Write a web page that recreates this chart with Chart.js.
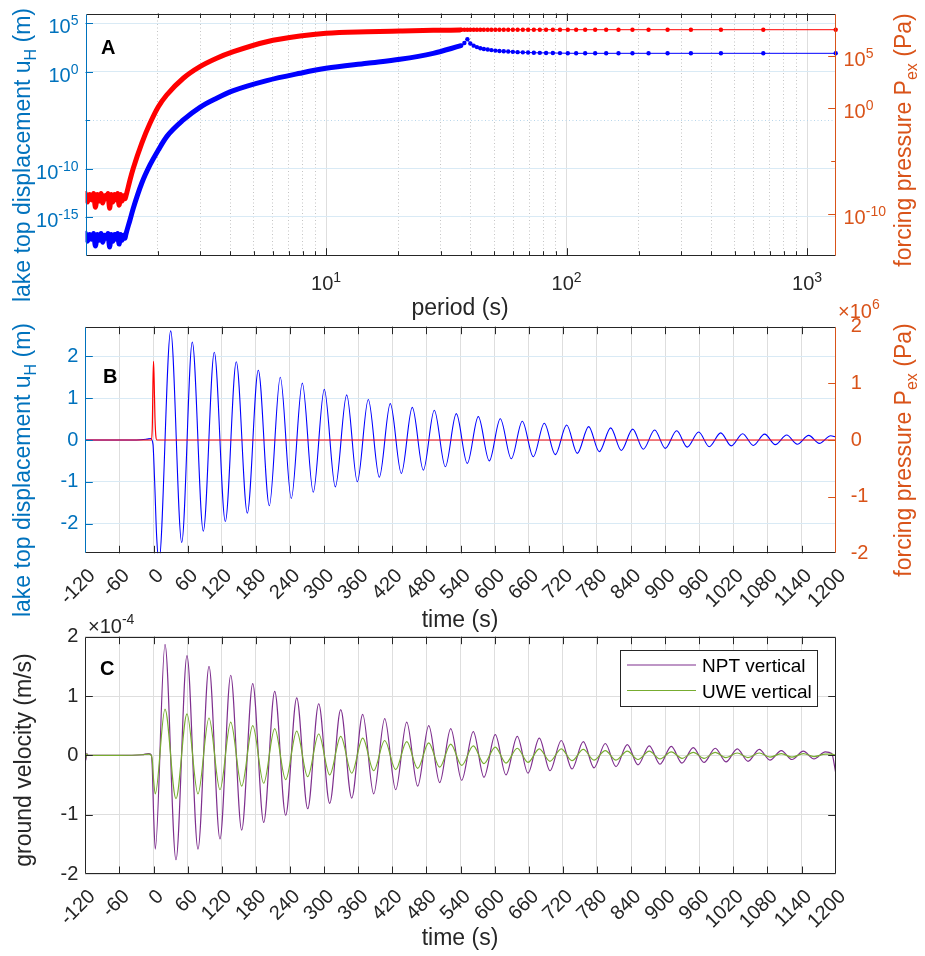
<!DOCTYPE html>
<html>
<head>
<meta charset="utf-8">
<script src="https://cdn.jsdelivr.net/npm/chart.js@4.4.0/dist/chart.umd.min.js"></script>
<style>
html, body { margin: 0; padding: 0; background: #fff; }
#wrap { position: relative; width: 925px; height: 956px; }
#wrap canvas { position: absolute; left: 0; top: 0; }
</style>
</head>
<body>
<div id="wrap">
  <canvas id="cA" width="925" height="956"></canvas>
  <canvas id="cB" width="925" height="956"></canvas>
  <canvas id="cC" width="925" height="956"></canvas>
</div>
<script>
// ---- panel A: spectra against period (s); values are log10 exponents ----
const periodDense = [1.00, 1.02, 1.04, 1.06, 1.08, 1.10, 1.12, 1.14, 1.16, 1.18, 1.20, 1.22,
  1.24, 1.26, 1.28, 1.30, 1.32, 1.34, 1.36, 1.38, 1.40, 1.42, 1.44, 1.46,
  1.470, 1.531, 1.580, 1.713, 1.854, 2.008, 2.176, 2.550, 2.99, 3.51, 4.12, 5.67, 7.8, 10, 14.8, 20.3, 27.9, 36.1];
const uDenseExp = [-16.7, -17.5, -16.8, -17.3, -16.7, -18.0, -16.8, -17.4, -16.7, -17.6, -16.9, -17.2,
  -16.7, -18.1, -16.8, -17.5, -16.8, -17.3, -16.7, -17.8, -16.8, -17.4, -16.9, -17.2,
  -16.86, -15.31, -14.10, -11.52, -9.63, -8.09, -6.71, -4.99, -3.68, -2.75, -1.97, -0.93, -0.17, 0.34, 0.86, 1.27, 1.89, 2.65];
const pDenseExp = [-8.1, -8.9, -8.2, -8.7, -8.1, -9.4, -8.2, -8.8, -8.1, -9.0, -8.3, -8.6,
  -8.1, -9.5, -8.2, -8.9, -8.2, -8.7, -8.1, -9.2, -8.2, -8.8, -8.3, -8.6,
  -8.40, -6.81, -5.70, -3.33, -1.43, 0.15, 1.26, 2.85, 3.95, 4.75, 5.37, 6.32, 6.86, 7.12, 7.27, 7.34, 7.40, 7.43];

const periodSparse = [1315, 657.5, 438.3, 328.8, 263, 219.2, 187.9, 164.4, 146.1, 131.5, 119.5, 109.6,
  101.2, 93.9, 87.7, 82.2, 77.4, 73.1, 69.2, 65.8, 62.6, 59.8, 57.2, 54.8,
  52.6, 50.6, 48.7, 47.0, 45.3, 43.8, 42.4, 41.1, 39.8, 38.7, 37.6, 36.5];
const uSparseExp = [1.89, 1.89, 1.89, 1.89, 1.89, 1.89, 1.89, 1.89, 1.89, 1.89, 1.89, 1.89,
  1.90, 1.91, 1.92, 1.93, 1.94, 1.95, 1.97, 1.99, 2.01, 2.04, 2.07, 2.10,
  2.13, 2.17, 2.22, 2.28, 2.34, 2.42, 2.53, 2.68, 2.90, 3.34, 2.95, 2.70];
const pSparseExp = [7.46, 7.46, 7.46, 7.46, 7.46, 7.46, 7.46, 7.46, 7.46, 7.46, 7.46, 7.46,
  7.46, 7.46, 7.46, 7.46, 7.46, 7.46, 7.46, 7.46, 7.46, 7.46, 7.46, 7.46,
  7.46, 7.46, 7.46, 7.46, 7.46, 7.46, 7.46, 7.46, 7.46, 7.46, 7.46, 7.45];

const periodTicks = [2, 3, 4, 5, 6, 7, 8, 9, 10, 20, 30, 40, 50, 60, 70, 80, 90,
  100, 200, 300, 400, 500, 600, 700, 800, 900, 1000];
const periodMajor = [10, 100, 1000];
const uTicks = [1e-15, 1e-10, 1e-5, 1e0, 1e5];
const uLabelled = [1e-15, 1e-10, 1e0, 1e5];
const pTicks = [1e-10, 1e-5, 1e0, 1e5];
const pLabelled = [1e-10, 1e0, 1e5];

// ---- panel B: lake top displacement (m) and forcing pressure (x1e6 Pa) ----
const tB = [-120, -30, -12, -5, -1, 2, 5.5, 9.6,
  30.2, 49.6, 68.2, 87.6, 106.9, 126.3, 145.6, 165, 184.3, 203.7,
  223, 242.4, 261.7, 281, 300.4, 319.8, 339.8, 358.5, 377.8, 397.2,
  416.5, 435.9, 455.2, 474.6, 493.9, 513.3, 532.6, 551.9, 571.3, 590.6,
  610, 629.3, 648.7, 668, 687.4, 706.7, 726.8, 745.4, 765.5, 784.1,
  804.2, 822.8, 842.9, 861.5, 881.6, 900.2, 920.3, 938.9, 959, 977.6,
  997.7, 1016.3, 1036.4, 1055, 1075, 1093.7, 1113.8, 1132.4, 1152.5, 1171.1,
  1191.2, 1200];
const uB = [0, 0, 0.02, 0.035, -0.1, -1.0, -2.3, -2.9,
  2.61, -2.45, 2.34, -2.18, 2.10, -1.95, 1.87, -1.75, 1.67, -1.57,
  1.50, -1.40, 1.36, -1.25, 1.21, -1.12, 1.08, -1.00, 0.97, -0.89,
  0.87, -0.80, 0.78, -0.72, 0.71, -0.64, 0.63, -0.56, 0.56, -0.50,
  0.51, -0.45, 0.45, -0.40, 0.40, -0.35, 0.36, -0.32, 0.32, -0.28,
  0.29, -0.25, 0.26, -0.22, 0.24, -0.20, 0.22, -0.17, 0.19, -0.16,
  0.17, -0.14, 0.15, -0.13, 0.14, -0.11, 0.12, -0.10, 0.11, -0.08,
  0.10, 0.07];
const tBp = [-120, -3.5, -2, -1, 0, 1, 2.5, 4, 6, 1200];
const pB = [0, 0, 0.3, 1.0, 1.39, 1.1, 0.4, 0.08, 0, 0];

// ---- panel C: ground velocity (x1e-4 m/s) ----
const tC = [-120, -119, -117.5, -115, -60, -20, -9, -4, -2, 0, 3.1,
  20.2, 39.5, 58.9, 78.2, 97.6, 116.9, 135.8, 155.1, 174.5, 193.8,
  213.2, 232.5, 251.9, 271.2, 290.6, 309.9, 329.3, 348.6, 368, 387.3,
  406.7, 426, 445.4, 464.7, 484.1, 503.4, 522.8, 542.1, 562.5, 581.3,
  601.2, 620, 639.9, 658.7, 678.6, 697.4, 717.3, 736.1, 756, 774.8,
  794.7, 813.5, 833.4, 852.2, 872.1, 890.9, 910.8, 929.6, 949.5, 968.3,
  988.2, 1007, 1026.9, 1045.7, 1065.6, 1084.4, 1104.3, 1123.1, 1143, 1161.8,
  1181.7, 1193, 1200];
const nptC = [0.12, -0.08, 0.03, 0, 0, 0.01, 0.03, 0.01, -0.25, -0.95, -1.58,
  1.87, -1.76, 1.68, -1.58, 1.50, -1.41, 1.35, -1.26, 1.21, -1.13,
  1.08, -1.01, 0.97, -0.90, 0.87, -0.81, 0.77, -0.72, 0.69, -0.65,
  0.62, -0.58, 0.56, -0.52, 0.50, -0.46, 0.45, -0.42, 0.40, -0.37,
  0.35, -0.33, 0.32, -0.30, 0.29, -0.26, 0.25, -0.23, 0.23, -0.21,
  0.20, -0.19, 0.18, -0.16, 0.16, -0.15, 0.15, -0.13, 0.13, -0.12,
  0.12, -0.11, 0.11, -0.10, 0.10, -0.08, 0.08, -0.07, 0.07, -0.06,
  0.06, 0.03, -0.29];
const uweC = [0.05, -0.04, 0.02, 0, 0, 0.01, 0.02, 0.0, -0.1, -0.4, -0.65,
  0.78, -0.73, 0.70, -0.65, 0.63, -0.58, 0.56, -0.52, 0.50, -0.47,
  0.45, -0.41, 0.41, -0.36, 0.36, -0.33, 0.32, -0.30, 0.29, -0.26,
  0.25, -0.24, 0.23, -0.22, 0.21, -0.20, 0.19, -0.17, 0.16, -0.14,
  0.14, -0.13, 0.12, -0.12, 0.11, -0.10, 0.11, -0.09, 0.10, -0.08,
  0.08, -0.08, 0.07, -0.07, 0.07, -0.06, 0.06, -0.05, 0.05, -0.05,
  0.05, -0.04, 0.04, -0.04, 0.04, -0.03, 0.03, -0.03, 0.03, -0.02,
  0.02, 0.02, 0.0];
const legendC = ['NPT vertical', 'UWE vertical'];

const timeTicks = [-120, -60, 0, 60, 120, 180, 240, 300, 360, 420, 480, 540, 600,
  660, 720, 780, 840, 900, 960, 1020, 1080, 1140, 1200];
const linTicks = [-2, -1, 0, 1, 2];

// ---- styling ----
const FONT = '"Liberation Sans", Arial, Helvetica, sans-serif';
const DARK = '#262626';
const AX_BLUE = '#0072BD';
const AX_ORANGE = '#D95319';
const GRID_GRAY = '#dedede';
const GRID_MINOR = '#c4c4c4';
const GRID_BLUE = '#d9eaf5';
const GRID_BLUE_MINOR = '#b8d6eb';

function line(ctx, x1, y1, x2, y2, color) {
    ctx.strokeStyle = color;
    ctx.beginPath();
    ctx.moveTo(x1, y1);
    ctx.lineTo(x2, y2);
    ctx.stroke();
}

// text made of pieces (for sub/superscripts)
function drawRich(ctx, parts, x, y, align, color, rotate) {
    ctx.save();
    ctx.translate(x, y);
    if (rotate) ctx.rotate(rotate);
    let w = 0;
    for (const p of parts) {
        ctx.font = (p.bold ? 'bold ' : '') + p.size + 'px ' + FONT;
        w += ctx.measureText(p.t).width;
    }
    let cx = align === 'center' ? -w / 2 : (align === 'right' ? -w : 0);
    ctx.fillStyle = color;
    ctx.textAlign = 'left';
    ctx.textBaseline = 'alphabetic';
    for (const p of parts) {
        ctx.font = (p.bold ? 'bold ' : '') + p.size + 'px ' + FONT;
        ctx.fillText(p.t, cx, p.dy || 0);
        cx += ctx.measureText(p.t).width;
    }
    ctx.restore();
}

function drawPow(ctx, v, x, y, align, color) {
    const e = Math.round(Math.log10(v));
    drawRich(ctx, [{ t: '10', size: 20 }, { t: String(e), size: 14, dy: -8 }], x, y, align, color);
}

function drawTicksX(ctx, scale, a, isMinor) {
    for (const t of scale.ticks) {
        const x = scale.getPixelForValue(t.value);
        if (x < a.left + 1 || x > a.right - 1) continue;
        const len = isMinor && isMinor(t.value) ? 4.5 : 7.5;
        const xx = Math.round(x) + 0.5;
        line(ctx, xx, a.bottom, xx, a.bottom - len, DARK);
        line(ctx, xx, a.top, xx, a.top + len, DARK);
    }
}

function drawTicksY(ctx, scale, a, side, color, isMinor) {
    for (const t of scale.ticks) {
        const y = scale.getPixelForValue(t.value);
        if (y < a.top + 1 || y > a.bottom - 1) continue;
        const len = isMinor && isMinor(t.value) ? 4.5 : 7.5;
        const yy = Math.round(y) + 0.5;
        if (side === 'left') line(ctx, a.left, yy, a.left + len, yy, color);
        else line(ctx, a.right, yy, a.right - len, yy, color);
    }
}

function drawBox(ctx, a, leftColor, rightColor) {
    const l = Math.round(a.left) + 0.5, r = Math.round(a.right) - 0.5;
    const t = Math.round(a.top) + 0.5, b = Math.round(a.bottom) - 0.5;
    line(ctx, l, t, r, t, DARK);
    line(ctx, l, b, r, b, DARK);
    line(ctx, l, t, l, b, leftColor);
    line(ctx, r, t, r, b, rightColor);
}

const tickFont = { family: FONT, size: 20 };

function timeAxis(h) {
    return {
        type: 'linear', position: 'bottom', min: -120, max: 1200,
        afterBuildTicks: s => { s.ticks = timeTicks.map(v => ({ value: v })); },
        afterFit: s => { s.height = h; },
        ticks: {
            color: DARK, font: tickFont, minRotation: 45, maxRotation: 45,
            autoSkip: false, padding: 11, labelOffset: 7,
            callback: v => String(v)
        },
        grid: { drawTicks: false, color: GRID_GRAY, lineWidth: 1 },
        border: { display: false }
    };
}

function baseOptions(pad) {
    return {
        responsive: false, animation: false, events: [], devicePixelRatio: 1,
        layout: { padding: pad },
        plugins: { legend: { display: false }, tooltip: { enabled: false } }
    };
}

// ================= panel A =================
const decorA = {
    id: 'decorA',
    afterDraw(chart) {
        const { ctx, chartArea: a, scales } = chart;
        ctx.save();
        ctx.lineWidth = 1;
        drawTicksX(ctx, scales.x, a, v => !periodMajor.includes(v));
        drawTicksY(ctx, scales.y, a, 'left', AX_BLUE, v => v === 1e-5);
        drawTicksY(ctx, scales.y1, a, 'right', AX_ORANGE, v => v === 1e-5);
        drawBox(ctx, a, AX_BLUE, AX_ORANGE);
        for (const v of uLabelled) drawPow(ctx, v, 78.5, scales.y.getPixelForValue(v) + 10, 'right', AX_BLUE);
        for (const v of pLabelled) drawPow(ctx, v, 843.5, scales.y1.getPixelForValue(v) + 10, 'left', AX_ORANGE);
        for (const v of periodMajor) drawPow(ctx, v, scales.x.getPixelForValue(v), 290, 'center', DARK);
        drawRich(ctx, [{ t: 'period (s)', size: 23 }], 460, 315, 'center', DARK);
        drawRich(ctx, [{ t: 'lake top displacement u', size: 23 }, { t: 'H', size: 16, dy: 6 }, { t: ' (m)', size: 23 }],
            30, 155, 'center', AX_BLUE, -Math.PI / 2);
        drawRich(ctx, [{ t: 'forcing pressure P', size: 23 }, { t: 'ex', size: 16, dy: 6 }, { t: ' (Pa)', size: 23 }],
            911, 140, 'center', AX_ORANGE, -Math.PI / 2);
        drawRich(ctx, [{ t: 'A', size: 20, bold: true }], 101, 54, 'left', '#000');
        ctx.restore();
    }
};

new Chart(document.getElementById('cA'), {
    type: 'line',
    data: {
        datasets: [
            {
                data: periodDense.map((t, i) => ({ x: t, y: Math.pow(10, uDenseExp[i]) })),
                yAxisID: 'y', borderColor: '#0000ff', borderWidth: 5, pointRadius: 0,
                cubicInterpolationMode: 'monotone', borderJoinStyle: 'round', borderCapStyle: 'round', clip: 0
            },
            {
                data: periodDense.map((t, i) => ({ x: t, y: Math.pow(10, pDenseExp[i]) })),
                yAxisID: 'y1', borderColor: '#ff0000', borderWidth: 5, pointRadius: 0,
                cubicInterpolationMode: 'monotone', borderJoinStyle: 'round', borderCapStyle: 'round', clip: 0
            },
            {
                data: periodSparse.map((t, i) => ({ x: t, y: Math.pow(10, uSparseExp[i]) })),
                yAxisID: 'y', borderColor: '#0000ff', borderWidth: 1, pointRadius: 2.2,
                pointBackgroundColor: '#0000ff', pointBorderWidth: 0, tension: 0, clip: 4
            },
            {
                data: periodSparse.map((t, i) => ({ x: t, y: Math.pow(10, pSparseExp[i]) })),
                yAxisID: 'y1', borderColor: '#ff0000', borderWidth: 1, pointRadius: 2.2,
                pointBackgroundColor: '#ff0000', pointBorderWidth: 0, tension: 0, clip: 4
            }
        ]
    },
    options: Object.assign(baseOptions({ top: 13.5, left: 0, right: 0, bottom: 640.3 }), {
        scales: {
            x: {
                type: 'logarithmic', position: 'bottom', min: 1, max: 1315,
                afterBuildTicks: s => { s.ticks = periodTicks.map(v => ({ value: v })); },
                afterFit: s => { s.height = 60; },
                ticks: { display: false },
                grid: {
                    drawTicks: false, lineWidth: 1,
                    color: c => (c.tick && periodMajor.includes(c.tick.value)) ? GRID_GRAY : GRID_MINOR
                },
                border: { display: false, dash: c => (c.tick && periodMajor.includes(c.tick.value)) ? [] : [1, 2.5] }
            },
            y: {
                type: 'logarithmic', position: 'left', min: 1e-19, max: 1e6,
                afterBuildTicks: s => { s.ticks = uTicks.map(v => ({ value: v })); },
                afterFit: s => { s.width = 85.5; },
                ticks: { display: false },
                grid: {
                    drawTicks: false, lineWidth: 1,
                    color: c => (c.tick && c.tick.value === 1e-5) ? GRID_BLUE_MINOR : GRID_BLUE
                },
                border: { display: false, dash: c => (c.tick && c.tick.value === 1e-5) ? [1, 2.5] : [] }
            },
            y1: {
                type: 'logarithmic', position: 'right', min: 1e-14, max: 1e9,
                afterBuildTicks: s => { s.ticks = pTicks.map(v => ({ value: v })); },
                afterFit: s => { s.width = 89.3; },
                ticks: { display: false },
                grid: { display: false },
                border: { display: false }
            }
        }
    }),
    plugins: [decorA]
});

// ================= panel B =================
const decorB = {
    id: 'decorB',
    afterDraw(chart) {
        const { ctx, chartArea: a, scales } = chart;
        ctx.save();
        ctx.lineWidth = 1;
        drawTicksX(ctx, scales.x, a);
        drawTicksY(ctx, scales.y, a, 'left', AX_BLUE);
        drawTicksY(ctx, scales.y1, a, 'right', AX_ORANGE);
        drawBox(ctx, a, AX_BLUE, AX_ORANGE);
        drawRich(ctx, [{ t: '\u00d710', size: 20 }, { t: '6', size: 14, dy: -9 }], 838, 318, 'left', AX_ORANGE);
        drawRich(ctx, [{ t: 'time (s)', size: 23 }], 460, 627, 'center', DARK);
        drawRich(ctx, [{ t: 'lake top displacement u', size: 23 }, { t: 'H', size: 16, dy: 6 }, { t: ' (m)', size: 23 }],
            30, 470, 'center', AX_BLUE, -Math.PI / 2);
        drawRich(ctx, [{ t: 'forcing pressure P', size: 23 }, { t: 'ex', size: 16, dy: 6 }, { t: ' (Pa)', size: 23 }],
            911, 450, 'center', AX_ORANGE, -Math.PI / 2);
        drawRich(ctx, [{ t: 'B', size: 20, bold: true }], 103, 383, 'left', '#000');
        ctx.restore();
    }
};

new Chart(document.getElementById('cB'), {
    type: 'line',
    data: {
        datasets: [
            {
                data: tBp.map((t, i) => ({ x: t, y: pB[i] })),
                yAxisID: 'y1', borderColor: '#ff0000', borderWidth: 1.2, pointRadius: 0,
                cubicInterpolationMode: 'monotone'
            },
            {
                data: tB.map((t, i) => ({ x: t, y: uB[i] })),
                yAxisID: 'y', borderColor: '#0000ff', borderWidth: 1.1, pointRadius: 0,
                cubicInterpolationMode: 'monotone', clip: 0
            }
        ]
    },
    options: Object.assign(baseOptions({ top: 326.7, left: 0, right: 0, bottom: 322.7 }), {
        scales: {
            x: timeAxis(80),
            y: {
                type: 'linear', position: 'left', min: -2.71, max: 2.71,
                afterBuildTicks: s => { s.ticks = linTicks.map(v => ({ value: v })); },
                afterFit: s => { s.width = 85.3; },
                ticks: { color: AX_BLUE, font: tickFont, padding: 7, callback: v => String(v) },
                grid: { drawTicks: false, color: GRID_BLUE, lineWidth: 1 },
                border: { display: false }
            },
            y1: {
                type: 'linear', position: 'right', min: -2, max: 2,
                afterBuildTicks: s => { s.ticks = linTicks.map(v => ({ value: v })); },
                afterFit: s => { s.width = 89.3; },
                ticks: { color: AX_ORANGE, font: tickFont, padding: 7, callback: v => String(v) },
                grid: { display: false },
                border: { display: false }
            }
        }
    }),
    plugins: [decorB]
});

// ================= panel C =================
const decorC = {
    id: 'decorC',
    afterDraw(chart) {
        const { ctx, chartArea: a, scales } = chart;
        const ds = chart.data.datasets;
        ctx.save();
        ctx.lineWidth = 1;
        drawTicksX(ctx, scales.x, a);
        drawTicksY(ctx, scales.y, a, 'left', DARK);
        drawTicksY(ctx, scales.y, a, 'right', DARK);
        drawBox(ctx, a, DARK, DARK);
        drawRich(ctx, [{ t: '\u00d710', size: 20 }, { t: '-4', size: 14, dy: -9 }], 88, 633, 'left', DARK);
        drawRich(ctx, [{ t: 'time (s)', size: 23 }], 460, 945, 'center', DARK);
        drawRich(ctx, [{ t: 'ground velocity (m/s)', size: 23 }], 31, 760, 'center', DARK, -Math.PI / 2);
        drawRich(ctx, [{ t: 'C', size: 20, bold: true }], 100, 675, 'left', '#000');
        // legend
        ctx.fillStyle = '#fff';
        ctx.fillRect(620.5, 650.5, 197, 56);
        ctx.strokeStyle = DARK;
        ctx.strokeRect(620.5, 650.5, 197, 56);
        const rows = [{ label: legendC[0], color: ds[1].borderColor, y: 665 },
                      { label: legendC[1], color: ds[0].borderColor, y: 690.5 }];
        for (const r of rows) {
            ctx.lineWidth = 1.2;
            line(ctx, 627, r.y, 696, r.y, r.color);
            drawRich(ctx, [{ t: r.label, size: 19 }], 702, r.y + 7, 'left', '#000');
        }
        ctx.restore();
    }
};

new Chart(document.getElementById('cC'), {
    type: 'line',
    data: {
        datasets: [
            {
                label: legendC[1],
                data: tC.map((t, i) => ({ x: t, y: uweC[i] })),
                borderColor: '#77AC30', borderWidth: 1.2, pointRadius: 0,
                cubicInterpolationMode: 'monotone'
            },
            {
                label: legendC[0],
                data: tC.map((t, i) => ({ x: t, y: nptC[i] })),
                borderColor: '#7E2F8E', borderWidth: 1.2, pointRadius: 0,
                cubicInterpolationMode: 'monotone'
            }
        ]
    },
    options: Object.assign(baseOptions({ top: 636.7, left: 0, right: 89.3, bottom: 22 }), {
        scales: {
            x: timeAxis(60),
            y: {
                type: 'linear', position: 'left', min: -2, max: 2,
                afterBuildTicks: s => { s.ticks = linTicks.map(v => ({ value: v })); },
                afterFit: s => { s.width = 85.3; },
                ticks: { color: DARK, font: tickFont, padding: 7, callback: v => String(v) },
                grid: { drawTicks: false, color: GRID_GRAY, lineWidth: 1 },
                border: { display: false }
            }
        }
    }),
    plugins: [decorC]
});
</script>
</body>
</html>
